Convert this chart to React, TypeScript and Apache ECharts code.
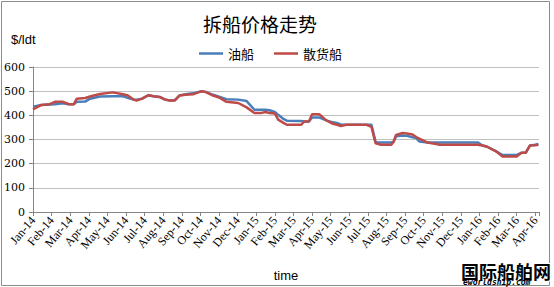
import React, { useEffect, useRef } from "react";
import * as echarts from "echarts";

const monthLabels = [
  "Jan-14", "Feb-14", "Mar-14", "Apr-14", "May-14", "Jun-14", "Jul-14", "Aug-14",
  "Sep-14", "Oct-14", "Nov-14", "Dec-14", "Jan-15", "Feb-15", "Mar-15", "Apr-15",
  "May-15", "Jun-15", "Jul-15", "Aug-15", "Sep-15", "Oct-15", "Nov-15", "Dec-15",
  "Jan-16", "Feb-16", "Mar-16", "Apr-16",
];

const dates = [
  "2014-01-01", "2014-01-15", "2014-01-29", "2014-02-06", "2014-02-18", "2014-02-27",
  "2014-03-07", "2014-03-12", "2014-03-26", "2014-04-03", "2014-04-19", "2014-05-10",
  "2014-05-27", "2014-06-04", "2014-06-13", "2014-06-18", "2014-06-27", "2014-07-07",
  "2014-07-16", "2014-07-26", "2014-08-04", "2014-08-12", "2014-08-20", "2014-08-28",
  "2014-09-07", "2014-09-19", "2014-10-03", "2014-10-10", "2014-10-22", "2014-11-01",
  "2014-11-13", "2014-12-02", "2014-12-16", "2014-12-29", "2015-01-10", "2015-01-16",
  "2015-01-23", "2015-02-01", "2015-02-06", "2015-02-14", "2015-02-19", "2015-03-14",
  "2015-03-19", "2015-03-27", "2015-04-01", "2015-04-13", "2015-04-24", "2015-05-05",
  "2015-05-13", "2015-05-18", "2015-05-27", "2015-06-29", "2015-07-07", "2015-07-14",
  "2015-07-23", "2015-08-09", "2015-08-13", "2015-08-17", "2015-08-28", "2015-09-04",
  "2015-09-13", "2015-09-19", "2015-09-24", "2015-10-07", "2015-10-22", "2015-10-28",
  "2015-12-29", "2016-01-06", "2016-01-13", "2016-01-28", "2016-02-08", "2016-03-01",
  "2016-03-09", "2016-03-16", "2016-03-23", "2016-04-01", "2016-04-06",
];

const tanker = [
  436, 443, 445, 446, 450, 446,
  446, 456, 457, 469, 478, 479,
  479, 472, 466, 465, 469, 483,
  479, 476, 466, 461, 462, 482,
  487, 491, 500, 497, 485, 477,
  467, 465, 459, 423, 423, 423,
  421, 414, 402, 385, 378, 377,
  375, 375, 391, 391, 379, 371,
  367, 362, 361, 361, 361, 288,
  288, 288, 291, 313, 317, 315,
  309, 306, 292, 288, 288, 288,
  288, 275, 271, 252, 236, 236,
  245, 245, 275, 278, 282,
];

const bulk = [
  425, 443, 446, 456, 456, 446,
  446, 469, 472, 478, 488, 495,
  487, 482, 465, 461, 469, 483,
  479, 476, 465, 461, 461, 482,
  485, 487, 500, 496, 482, 474,
  456, 451, 433, 410, 410, 414,
  410, 408, 382, 369, 361, 361,
  375, 375, 404, 404, 379, 365,
  360, 356, 361, 361, 352, 284,
  278, 278, 291, 319, 327, 325,
  321, 310, 304, 288, 281, 278,
  278, 275, 271, 252, 230, 230,
  245, 245, 275, 276, 278,
];

function monthIndex(d: string): number {
  const [y, m, day] = d.split("-").map(Number);
  const dim = new Date(y, m, 0).getDate();
  return (y - 2014) * 12 + (m - 1) + (day - 1) / dim;
}

export default function App() {
  const ref = useRef<HTMLDivElement>(null);
  useEffect(() => {
    if (!ref.current) return;
    const chart = echarts.init(ref.current, undefined, { renderer: "svg" });
    chart.setOption({
      animation: false,
      backgroundColor: "#ffffff",
      grid: { left: 33, right: 15, top: 67, bottom: 65, containLabel: false },
      legend: {
        left: 194,
        top: 42,
        icon: "rect",
        itemWidth: 24,
        itemHeight: 2.5,
        itemGap: 20,
        textStyle: { fontFamily: "Noto Sans CJK SC", fontSize: 13, color: "#000" },
        data: ["油船", "散货船"],
      },
      xAxis: {
        type: "value",
        min: 0,
        max: 27.2,
        interval: 1,
        name: "time",
        nameLocation: "middle",
        nameGap: 57,
        nameTextStyle: { fontFamily: "Liberation Sans", fontSize: 13, color: "#000" },
        axisLine: { show: true, lineStyle: { color: "#868686", width: 1 } },
        axisTick: { show: true, length: 4, lineStyle: { color: "#868686" } },
        splitLine: { show: false },
        axisLabel: {
          rotate: 50,
          margin: 6,
          fontFamily: "Liberation Serif",
          fontSize: 12,
          color: "#000",
          formatter: (v: number) => {
            const r = Math.round(v);
            return Math.abs(v - r) < 1e-6 && monthLabels[r] ? monthLabels[r] : "";
          },
        },
      },
      yAxis: {
        type: "value",
        min: 0,
        max: 600,
        interval: 100,
        axisLine: { show: true, lineStyle: { color: "#868686", width: 1 } },
        axisTick: { show: true, length: 4, lineStyle: { color: "#868686" } },
        splitLine: { show: true, lineStyle: { color: "#c0c0c0", width: 1.2 } },
        axisLabel: { fontFamily: "DejaVu Serif", fontSize: 11, color: "#000", margin: 8 },
      },
      series: [
        {
          name: "油船",
          type: "line",
          symbol: "none",
          color: "#4a7ebb",
          lineStyle: { color: "#4a7ebb", width: 2.5 },
          data: dates.map((d, i) => [monthIndex(d), tanker[i]]),
        },
        {
          name: "散货船",
          type: "line",
          symbol: "none",
          color: "#be4b48",
          lineStyle: { color: "#be4b48", width: 2.5 },
          data: dates.map((d, i) => [monthIndex(d), bulk[i]]),
        },
      ],
      graphic: [
        {
          type: "rect",
          shape: { x: 1.5, y: 1.5, width: 548, height: 284 },
          style: { fill: "none", stroke: "#8c8c8c", lineWidth: 1 },
          silent: true,
          z: -1,
        },
        {
          type: "text",
          left: 203,
          top: 14,
          style: { text: "拆船价格走势", fontFamily: "Noto Sans CJK SC", fontSize: 19, fill: "#000" },
        },
        {
          type: "text",
          left: 11,
          top: 33,
          style: { text: "$/ldt", fontFamily: "Liberation Sans", fontSize: 13, fill: "#000" },
        },
        {
          type: "text",
          left: 460,
          top: 261,
          z: 100,
          style: {
            text: "国际船舶网",
            fontFamily: "Noto Sans CJK SC",
            fontWeight: "bold",
            fontSize: 18,
            lineHeight: 17,
            fill: "#000",
            stroke: "#fff",
            lineWidth: 2,
          },
        },
        {
          type: "text",
          left: 463,
          top: 278,
          z: 100,
          style: {
            text: "eworldship.com",
            fontFamily: "DejaVu Sans Mono",
            fontWeight: "bold",
            fontStyle: "italic",
            fontSize: 8,
            lineHeight: 8,
            fill: "#000",
          },
        },
      ],
    });
    return () => chart.dispose();
  }, []);
  return (
    <div
      ref={ref}
      style={{ position: "fixed", left: 0, top: 0, width: 554, height: 287 }}
    />
  );
}
